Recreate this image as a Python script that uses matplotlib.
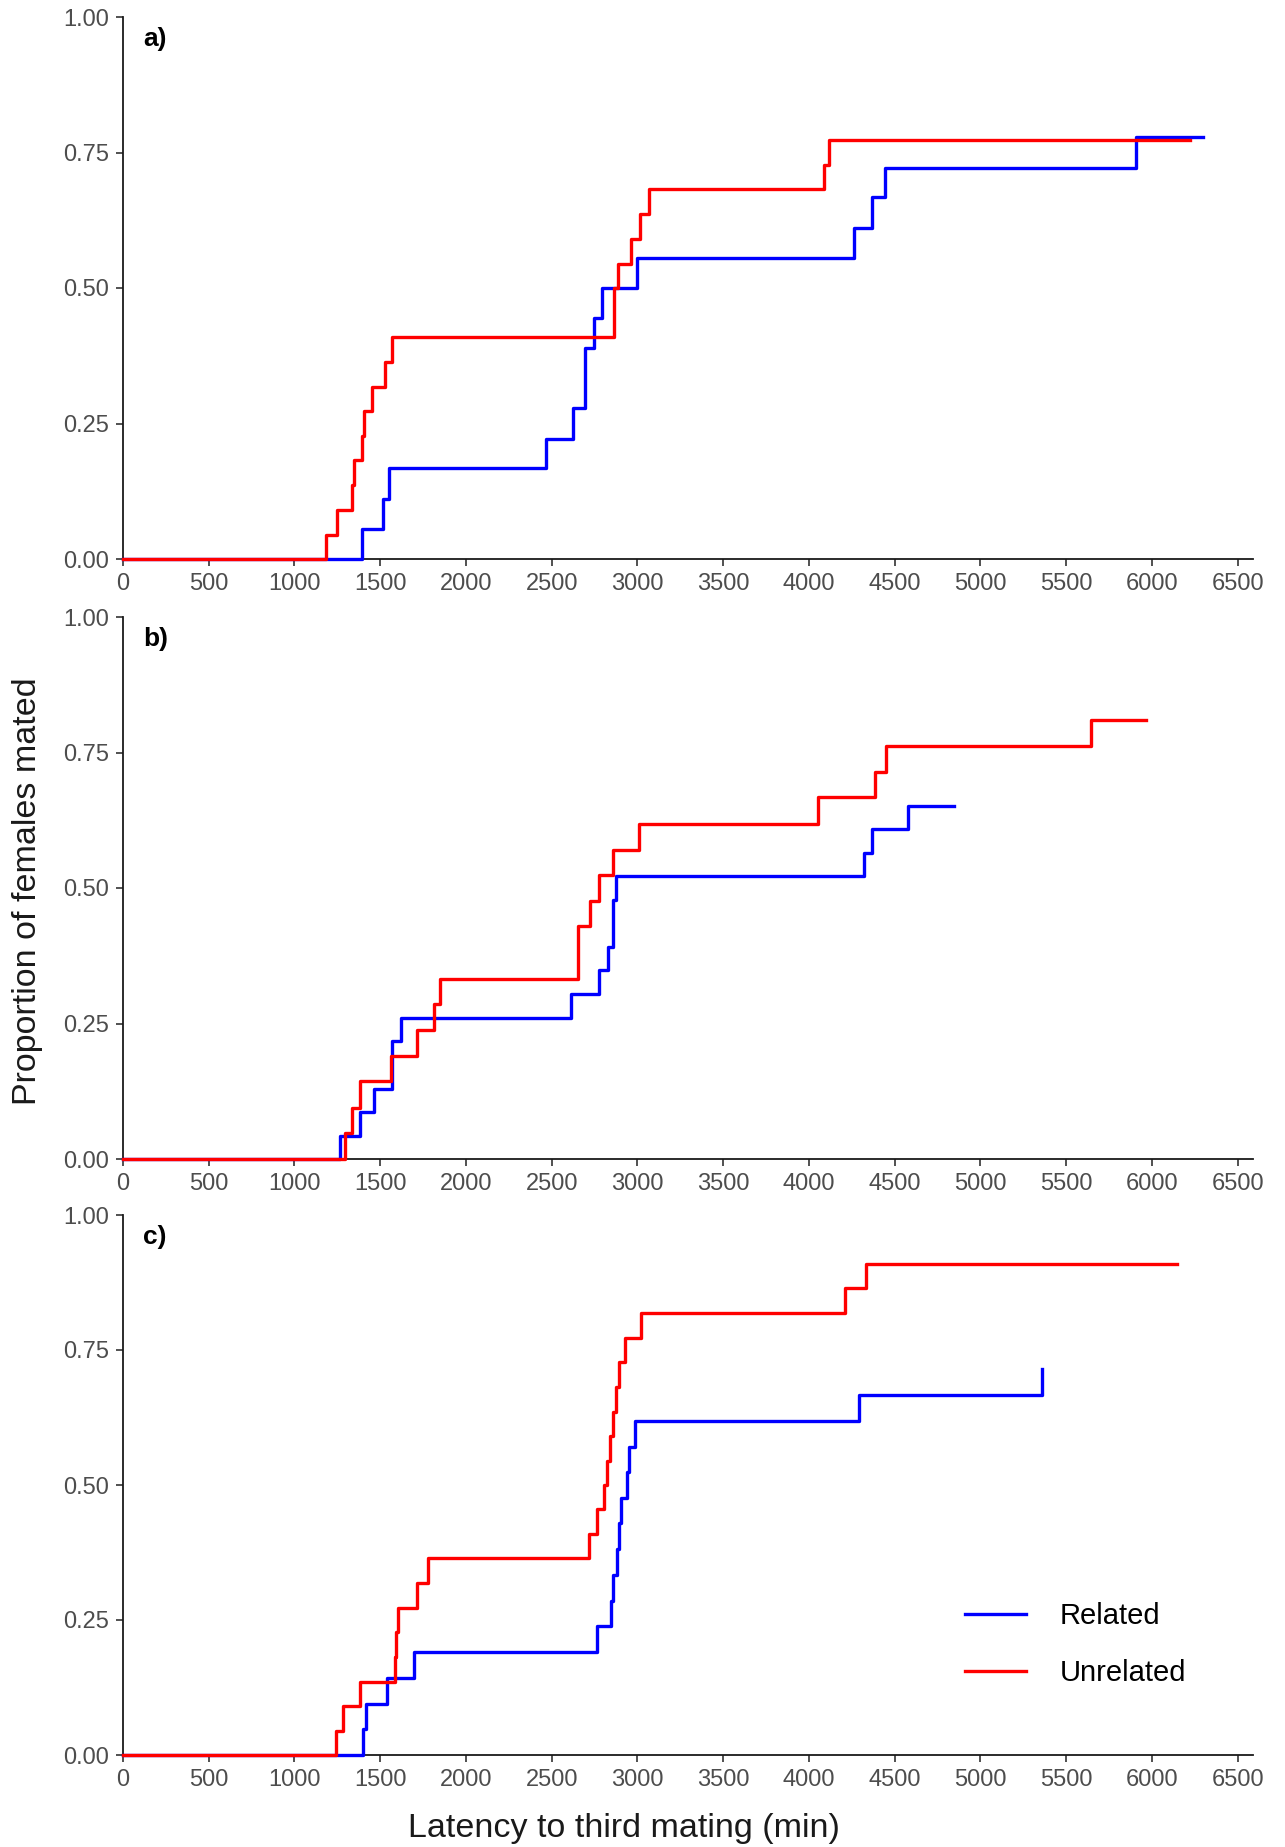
"""Cumulative proportion of females mated over time, by relatedness of the male.

Three stacked panels (a, b, c), each with a Related and an Unrelated curve
drawn as post-steps, sharing the x label and the y label.
"""

import matplotlib
matplotlib.use("Agg")
import matplotlib.pyplot as plt

plt.rcParams["font.family"] = ["Liberation Sans", "DejaVu Sans"]

# Panel a) event times (min) and proportion mated after each event
a_rel_t = [0, 1394, 1517, 1550, 2465, 2622, 2695, 2744, 2795, 3000, 4265, 4367, 4443, 5909, 6301]
a_rel_p = [0, 0.056, 0.111, 0.167, 0.222, 0.278, 0.389, 0.444, 0.500, 0.556, 0.611, 0.667, 0.722, 0.778, 0.778]
a_unr_t = [0, 1182, 1249, 1338, 1350, 1394, 1405, 1450, 1528, 1566, 2866, 2889, 2962, 3016, 3067,
           4087, 4120, 6220]
a_unr_p = [0, 0.045, 0.091, 0.136, 0.182, 0.227, 0.273, 0.318, 0.364, 0.409, 0.500, 0.545, 0.591,
           0.636, 0.682, 0.727, 0.773, 0.773]

# Panel b)
b_rel_t = [0, 1267, 1383, 1461, 1566, 1622, 2610, 2777, 2828, 2855, 2877, 4323, 4367, 4578, 4845]
b_rel_p = [0, 0.043, 0.087, 0.130, 0.217, 0.261, 0.304, 0.348, 0.391, 0.478, 0.522, 0.565, 0.609, 0.652, 0.652]
b_unr_t = [0, 1294, 1338, 1383, 1561, 1713, 1814, 1847, 2654, 2721, 2777, 2855, 3011, 4056, 4387,
           4451, 5647, 5965]
b_unr_p = [0, 0.048, 0.095, 0.143, 0.190, 0.238, 0.286, 0.333, 0.429, 0.476, 0.524, 0.571, 0.619,
           0.667, 0.714, 0.762, 0.810, 0.810]

# Panel c)
c_rel_t = [0, 1401, 1416, 1539, 1695, 2762, 2844, 2860, 2882, 2895, 2904, 2940, 2949, 2985, 4290, 5359]
c_rel_p = [0, 0.048, 0.095, 0.143, 0.190, 0.238, 0.286, 0.333, 0.381, 0.429, 0.476, 0.524, 0.571,
           0.619, 0.667, 0.714]
c_unr_t = [0, 1245, 1283, 1383, 1584, 1595, 1606, 1713, 1780, 2717, 2762, 2806, 2822, 2840, 2856,
           2873, 2895, 2929, 3018, 4209, 4331, 6148]
c_unr_p = [0, 0.045, 0.091, 0.136, 0.182, 0.227, 0.273, 0.318, 0.364, 0.409, 0.455, 0.500, 0.545,
           0.591, 0.636, 0.682, 0.727, 0.773, 0.818, 0.864, 0.909, 0.909]

panel_labels = ["a)", "b)", "c)"]
group_labels = ["Related", "Unrelated"]
x_ticks = list(range(0, 6501, 500))
y_ticks = [0.0, 0.25, 0.5, 0.75, 1.0]

panels = [
    ((a_rel_t, a_rel_p), (a_unr_t, a_unr_p)),
    ((b_rel_t, b_rel_p), (b_unr_t, b_unr_p)),
    ((c_rel_t, c_rel_p), (c_unr_t, c_unr_p)),
]
colors = ["#0000FF", "#FF0000"]

fig = plt.figure(figsize=(12.85, 18.47), dpi=100)
W, H = 1285, 1847
left, right = 123, 1253
# (top, bottom) of each panel in pixels
boxes = [(17, 559), (617, 1159), (1215, 1755)]

axes = []
for (top, bottom), label, series in zip(boxes, panel_labels, panels):
    ax = fig.add_axes([left / W, 1 - bottom / H, (right - left) / W, (bottom - top) / H])
    for (t, p), col, name in zip(series, colors, group_labels):
        ax.step(t, p, where="post", color=col, lw=2.4, label=name,
                clip_on=False, zorder=3)
    ax.set_xlim(0, 6590)
    ax.set_ylim(0, 1)
    ax.set_xticks(x_ticks)
    ax.set_yticks(y_ticks)
    ax.set_yticklabels([f"{v:.2f}" for v in y_ticks])
    for side in ("top", "right"):
        ax.spines[side].set_visible(False)
    for side in ("left", "bottom"):
        ax.spines[side].set_linewidth(1.3)
        ax.spines[side].set_color("#1a1a1a")
    ax.tick_params(axis="both", length=5, width=1.2, color="#333333",
                   labelcolor="#4D4D4D", labelsize=17, pad=5)
    ax.text(0.018, 0.96, label, transform=ax.transAxes, ha="left", va="center",
            fontsize=19, fontweight="bold")
    axes.append(ax)

axes[-1].legend(loc="upper left", bbox_to_anchor=(0.745, 0.283), frameon=False,
                fontsize=21, handlelength=2.1, handletextpad=1.15, labelspacing=1.0,
                borderpad=0, borderaxespad=0)

fig.text(624 / W, 1 - 1829 / H, "Latency to third mating (min)", ha="center", va="center",
         fontsize=24.5, color="#1a1a1a")
fig.text(28 / W, 1 - 891 / H, "Proportion of females mated", ha="center", va="center",
         rotation=90, fontsize=24.5, color="#1a1a1a")

fig.savefig("out.png", dpi=100)
